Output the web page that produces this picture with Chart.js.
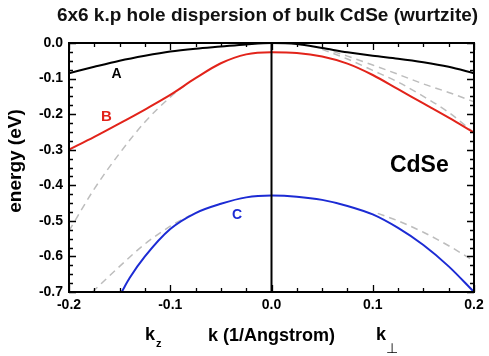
<!DOCTYPE html>
<html><head><meta charset="utf-8">
<style>html,body{margin:0;padding:0;background:#fff}#wrap{width:489px;height:356px}</style>
<script src="https://cdn.jsdelivr.net/npm/chart.js@4"></script>
</head><body><div id="wrap"><canvas id="c" width="489" height="356"></canvas></div>
<script>
// ---- data ----
const kValues = [-0.2,-0.175,-0.15,-0.125,-0.1,-0.075,-0.05,-0.025,0,0.025,0.05,0.075,0.1,0.125,0.15,0.175,0.2];
const bandA = [-0.085,-0.067,-0.050,-0.036,-0.024,-0.016,-0.010,-0.004,0,-0.003,-0.014,-0.026,-0.036,-0.044,-0.054,-0.067,-0.085];
const bandB = [-0.300,-0.264,-0.226,-0.187,-0.146,-0.099,-0.057,-0.032,-0.026,-0.028,-0.038,-0.058,-0.090,-0.130,-0.170,-0.210,-0.252];
const kC = [-0.148,-0.14,-0.125,-0.1,-0.075,-0.05,-0.025,0,0.025,0.05,0.075,0.1,0.125,0.15,0.175,0.2];
const bandC = [-0.700,-0.660,-0.600,-0.523,-0.478,-0.452,-0.434,-0.429,-0.432,-0.441,-0.458,-0.482,-0.520,-0.568,-0.628,-0.700];
const kDashB = [-0.2,-0.175,-0.15,-0.125,-0.1,-0.085];
const dashB = [-0.528,-0.410,-0.310,-0.222,-0.152,-0.117];
const kDashC = [-0.177,-0.15,-0.125,-0.1,-0.08];
const dashC = [-0.700,-0.628,-0.565,-0.515,-0.484];
const kDashPerp = [0.05,0.075,0.1,0.125,0.15,0.175,0.2];
const dashPerp1 = [-0.014,-0.037,-0.062,-0.088,-0.115,-0.139,-0.165];
const dashPerp2 = [-0.018,-0.045,-0.077,-0.110,-0.150,-0.195,-0.252];
const kDashCPerp = [0.105,0.125,0.15,0.175,0.2];
const dashCPerp = [-0.479,-0.500,-0.532,-0.570,-0.613];
const xTickValues = [-0.2,-0.1,0,0.1,0.2];
const xTickLabels = ['-0.2','-0.1','0.0','0.1','0.2'];
const yTickValues = [0,-0.1,-0.2,-0.3,-0.4,-0.5,-0.6,-0.7];
const yTickLabels = ['0.0','-0.1','-0.2','-0.3','-0.4','-0.5','-0.6','-0.7'];
const bandLabels = [
  {text:'A', k:-0.153, e:-0.088, color:'#000000', size:14},
  {text:'B', k:-0.163, e:-0.208, color:'#e2231a', size:15},
  {text:'C', k:-0.034, e:-0.483, color:'#1c2bd4', size:14},
  {text:'CdSe', k:0.146, e:-0.346, color:'#000000', size:23}
];
const titleText = '6x6 k.p hole dispersion of bulk CdSe (wurtzite)';
const xTitle = 'k (1/Angstrom)';
const yTitle = 'energy (eV)';

const RED = '#e2231a', BLUE = '#1c2bd4', GREY = '#bdbdbd';
const pts = (ks, es) => ks.map((k,i)=>({x:k, y:es[i]}));
const FONT = "'Liberation Sans', Arial, sans-serif";

const frame = {
  id:'frame',
  afterDatasetsDraw(chart){
    const {ctx, chartArea:a, scales:{x, y}} = chart;
    ctx.save();
    ctx.strokeStyle = '#000';
    // zero line
    ctx.lineWidth = 2;
    const x0 = x.getPixelForValue(0);
    ctx.beginPath(); ctx.moveTo(x0, a.top); ctx.lineTo(x0, a.bottom); ctx.stroke();
    // inward ticks
    ctx.lineWidth = 1.3;
    for (let i=0;i<=16;i++){
      const v = -0.2 + i*0.025;
      const px = Math.round(x.getPixelForValue(v))+0.5;
      const L = (i%4===0)?7:4;
      ctx.beginPath();
      ctx.moveTo(px, a.bottom); ctx.lineTo(px, a.bottom-L);
      ctx.moveTo(px, a.top); ctx.lineTo(px, a.top+L);
      ctx.stroke();
    }
    for (let i=0;i<=28;i++){
      const v = -i*0.025;
      const py = Math.round(y.getPixelForValue(v))+0.5;
      const L = (i%4===0)?7:4;
      ctx.beginPath();
      ctx.moveTo(a.left, py); ctx.lineTo(a.left+L, py);
      ctx.moveTo(a.right, py); ctx.lineTo(a.right-L, py);
      ctx.stroke();
    }
    ctx.lineWidth = 2;
    ctx.strokeRect(a.left, a.top, a.right-a.left, a.bottom-a.top);
    // in-plot labels
    ctx.textAlign = 'center'; ctx.textBaseline = 'middle';
    bandLabels.forEach(l=>{
      ctx.fillStyle = l.color;
      ctx.font = 'bold '+l.size+'px '+FONT;
      ctx.fillText(l.text, x.getPixelForValue(l.k), y.getPixelForValue(l.e));
    });
    // chart title
    ctx.fillStyle = '#111';
    ctx.font = 'bold 19px '+FONT;
    ctx.fillText(titleText, 267.5, 16);
    // y-axis title
    ctx.save();
    ctx.translate(16, 161);
    ctx.rotate(-Math.PI/2);
    ctx.fillStyle = '#000';
    ctx.font = 'bold 19px '+FONT;
    ctx.fillText(yTitle, 0, 0);
    ctx.restore();
    // k_z and k_perp
    ctx.fillStyle = '#000';
    ctx.textAlign = 'left'; ctx.textBaseline = 'alphabetic';
    ctx.font = 'bold 18px '+FONT;
    ctx.fillText('k', 145, 340);
    ctx.fillText('k', 376, 340);
    ctx.font = 'bold 11px '+FONT;
    ctx.fillText('z', 156, 347);
    ctx.font = '14px "DejaVu Sans"';
    ctx.fillText('⊥', 386, 353);
    ctx.restore();
  }
};

new Chart(document.getElementById('c'), {
  type:'line',
  data:{datasets:[
    {data:pts(kValues,bandA), borderColor:'#000', borderWidth:2, order:0},
    {data:pts(kValues,bandB), borderColor:RED, borderWidth:2, order:0},
    {data:pts(kC,bandC), borderColor:BLUE, borderWidth:2, order:0},
    {data:pts(kDashB,dashB), borderColor:GREY, borderWidth:1.5, borderDash:[7,5], order:1},
    {data:pts(kDashC,dashC), borderColor:GREY, borderWidth:1.5, borderDash:[7,5], order:1},
    {data:pts(kDashPerp,dashPerp1), borderColor:GREY, borderWidth:1.5, borderDash:[7,5], order:1},
    {data:pts(kDashPerp,dashPerp2), borderColor:GREY, borderWidth:1.5, borderDash:[7,5], order:1},
    {data:pts(kDashCPerp,dashCPerp), borderColor:GREY, borderWidth:1.5, borderDash:[7,5], order:1}
  ]},
  options:{
    responsive:false, animation:false, devicePixelRatio:1,
    elements:{point:{radius:0}, line:{cubicInterpolationMode:'monotone', fill:false}},
    layout:{padding:{left:0,right:15,top:43,bottom:0}},
    plugins:{
      legend:{display:false}, tooltip:{enabled:false}, title:{display:false}
    },
    scales:{
      x:{type:'linear', min:-0.2, max:0.2,
        afterBuildTicks:s=>{s.ticks = xTickValues.map(v=>({value:v}));},
        afterFit:s=>{s.height = 64;},
        grid:{display:false, drawTicks:false}, border:{display:false},
        ticks:{color:'#000', padding:5, maxRotation:0, autoSkip:false, font:{family:FONT,size:14,weight:'bold'},
          callback:(v,i)=>xTickLabels[i]},
        title:{display:true, text:xTitle, color:'#000', font:{family:FONT,size:18,weight:'bold'}, padding:{top:0,bottom:9}}
      },
      y:{type:'linear', min:-0.7, max:0,
        afterBuildTicks:s=>{s.ticks = yTickValues.map(v=>({value:v}));},
        afterFit:s=>{s.width = 69;},
        grid:{display:false, drawTicks:false}, border:{display:false},
        ticks:{color:'#000', padding:6, font:{family:FONT,size:14,weight:'bold'},
          callback:(v,i)=>yTickLabels[i]}
      }
    }
  },
  plugins:[frame]
});
</script></body></html>
